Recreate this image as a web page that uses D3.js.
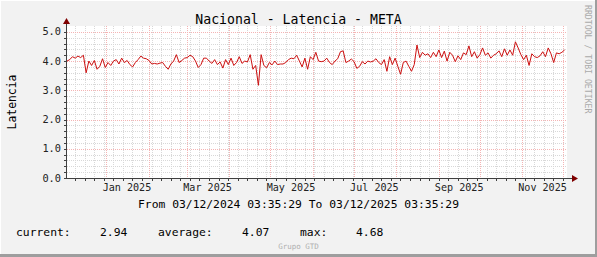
<!DOCTYPE html>
<html>
<head>
<meta charset="utf-8">
<script src="https://cdn.jsdelivr.net/npm/d3@7"></script>
<style>
  body { margin: 0; background: #f2f2f2; }
  svg text { font-family: "DejaVu Sans Mono", monospace; }
  .grid line { shape-rendering: crispEdges; stroke-dasharray: 1,1; }
</style>
</head>
<body>
<div id="chart"></div>
<script>
// Chart texts
var title = "Nacional - Latencia - META";
var yLabel = "Latencia";
var periodText = "From 03/12/2024 03:35:29 To 03/12/2025 03:35:29";
var watermark = "RRDTOOL / TOBI OETIKER";
var footer = "Grupo GTD";

// Legend (label, value)
var legendLabels = ["current:", "average:", "max:"];
var legendValues = ["2.94", "4.07", "4.68"];

// Time range and sample step (2 days)
var startTime = "2024-12-03T03:35:29Z";
var endTime = "2025-12-03T03:35:29Z";
var stepDays = 2;

// Latency values, one every 2 days
var latency = [
  4.0, 4.05, 4.15, 4.1, 4.17, 4.12, 4.2, 3.6, 4.0, 3.85,
  4.02, 3.72, 3.82, 4.08, 3.78, 3.95, 3.85, 4.0, 4.05, 3.9,
  4.1, 3.95, 4.02, 3.88, 3.8, 3.95, 4.05, 4.17, 4.1, 4.08,
  4.02, 3.9, 3.92, 3.9, 3.93, 3.95, 3.82, 3.72, 3.9, 4.0,
  4.22, 3.95, 4.02, 4.1, 4.12, 4.2, 4.15, 4.0, 3.78, 3.88,
  4.1, 4.1, 4.0, 3.92, 4.05, 3.88, 3.97, 3.76, 4.05, 3.88,
  4.1, 3.85, 3.95, 4.15, 3.92, 4.0, 3.97, 4.22, 3.72, 3.85,
  3.17, 4.22, 3.85, 3.77, 3.95, 3.87, 4.0, 3.88, 3.9, 3.9,
  3.95, 4.05, 4.1, 4.08, 4.2, 4.0, 3.8, 4.1, 3.72, 4.15,
  4.05, 4.3, 4.0, 3.98, 4.0, 4.1, 3.95, 3.88, 4.0, 4.08,
  4.32, 4.35, 3.95, 4.0, 4.07, 3.98, 3.75, 3.82, 3.98, 3.9,
  4.0, 3.97, 4.0, 4.08, 3.95, 3.88, 4.05, 3.65, 4.15, 3.88,
  4.1, 3.82, 3.55, 3.95, 4.0, 3.82, 3.65, 3.88, 4.55, 4.12,
  4.3, 4.2, 4.25, 4.12, 4.3, 4.15, 4.38, 4.12, 4.34, 4.0,
  4.3, 4.2, 3.98, 4.18, 4.05, 4.28, 4.22, 4.52, 4.15, 4.32,
  4.1, 4.22, 4.45, 4.2, 4.28, 4.1, 4.2, 4.25, 4.35, 4.15,
  4.42, 4.2, 4.38, 4.2, 4.66, 4.45, 4.22, 4.05, 4.2, 3.85,
  4.25, 4.15, 4.12, 4.18, 4.32, 4.15, 4.45, 4.25, 3.95, 4.28,
  4.25, 4.3, 4.38
];

// Y axis ticks
var yMajorTicks = [0, 1, 2, 3, 4, 5];
var yMinorTicks = d3.range(0, 26).map(d => d / 5);

var svgWidth = 597;
var svgHeight = 257;

// Plot area
var plot = { left: 67, right: 566, top: 26, bottom: 178 };

var svg = d3.select("#chart")
    .append("svg")
    .attr("width", svgWidth)
    .attr("height", svgHeight);

// Canvas with 3D frame
svg.append("rect").attr("width", svgWidth).attr("height", svgHeight).attr("fill", "#f2f2f2");
svg.append("rect").attr("x", 0).attr("y", 0).attr("width", svgWidth).attr("height", 1).attr("fill", "#ffffff");
svg.append("rect").attr("x", 0).attr("y", 0).attr("width", 1).attr("height", svgHeight).attr("fill", "#ffffff");
svg.append("rect").attr("x", 0).attr("y", svgHeight - 3).attr("width", svgWidth).attr("height", 3).attr("fill", "#9e9e9e");
svg.append("rect").attr("x", svgWidth - 2).attr("y", 0).attr("width", 2).attr("height", svgHeight).attr("fill", "#9e9e9e");

// Plot background
svg.append("rect")
    .attr("x", plot.left)
    .attr("y", plot.top)
    .attr("width", plot.right - plot.left + 1)
    .attr("height", plot.bottom - plot.top)
    .attr("fill", "#ffffff");

var parseTime = d3.utcParse("%Y-%m-%dT%H:%M:%SZ");
var t0 = parseTime(startTime);
var t1 = parseTime(endTime);

var data = latency.map(function (v, i) {
    return { date: d3.utcDay.offset(t0, i * stepDays), value: v };
});

var xScale = d3.scaleUtc().domain([t0, t1]).range([plot.left, plot.right]);
var yScale = d3.scaleLinear().domain([0, 5.2]).range([plot.bottom, plot.top]);

var weeks = d3.utcMonday.range(t0, t1);
var months = d3.utcMonth.range(t0, t1);
var labelMonths = months.filter(d => d.getUTCMonth() % 2 === 0);

// Minor grid
svg.append("g")
    .attr("class", "grid")
    .selectAll("line")
    .data(weeks)
    .enter()
    .append("line")
    .attr("x1", d => Math.round(xScale(d)) + 0.5)
    .attr("x2", d => Math.round(xScale(d)) + 0.5)
    .attr("y1", plot.top)
    .attr("y2", plot.bottom)
    .attr("stroke", "#d8d8d8");

svg.append("g")
    .attr("class", "grid")
    .selectAll("line")
    .data(yMinorTicks)
    .enter()
    .append("line")
    .attr("x1", plot.left)
    .attr("x2", plot.right + 1)
    .attr("y1", d => Math.round(yScale(d)) + 0.5)
    .attr("y2", d => Math.round(yScale(d)) + 0.5)
    .attr("stroke", "#d8d8d8");

// Major grid
svg.append("g")
    .attr("class", "grid")
    .selectAll("line")
    .data(months)
    .enter()
    .append("line")
    .attr("x1", d => Math.round(xScale(d)) + 0.5)
    .attr("x2", d => Math.round(xScale(d)) + 0.5)
    .attr("y1", plot.top)
    .attr("y2", plot.bottom)
    .attr("stroke", "#f4b4b4");

svg.append("g")
    .attr("class", "grid")
    .selectAll("line")
    .data(yMajorTicks)
    .enter()
    .append("line")
    .attr("x1", plot.left - 2)
    .attr("x2", plot.right + 1)
    .attr("y1", d => Math.round(yScale(d)) + 0.5)
    .attr("y2", d => Math.round(yScale(d)) + 0.5)
    .attr("stroke", "#f4b4b4");

// Data line
var line = d3.line()
    .x(d => xScale(d.date))
    .y(d => yScale(d.value));

svg.append("path")
    .datum(data)
    .attr("fill", "none")
    .attr("stroke", "#cc1010")
    .attr("stroke-width", 1)
    .attr("stroke-linejoin", "round")
    .attr("d", line);

// Axes
var axisColor = "#404040";

svg.append("line")
    .attr("x1", plot.left).attr("x2", plot.right + 6)
    .attr("y1", plot.bottom + 0.5).attr("y2", plot.bottom + 0.5)
    .attr("stroke", axisColor);
svg.append("line")
    .attr("x1", plot.left - 0.5).attr("x2", plot.left - 0.5)
    .attr("y1", plot.bottom + 1).attr("y2", plot.top - 4)
    .attr("stroke", axisColor);

// X ticks
svg.append("g").selectAll("line")
    .data(weeks)
    .enter()
    .append("line")
    .attr("x1", d => Math.round(xScale(d)) + 0.5)
    .attr("x2", d => Math.round(xScale(d)) + 0.5)
    .attr("y1", plot.bottom + 1)
    .attr("y2", plot.bottom + 3)
    .attr("stroke", axisColor);

// Y ticks
svg.append("g").selectAll("line")
    .data(yMinorTicks)
    .enter()
    .append("line")
    .attr("x1", plot.left - 3)
    .attr("x2", plot.left)
    .attr("y1", d => Math.round(yScale(d)) + 0.5)
    .attr("y2", d => Math.round(yScale(d)) + 0.5)
    .attr("stroke", axisColor);

// Arrows
svg.append("path")
    .attr("d", `M${plot.left - 4},${plot.top - 2} L${plot.left - 0.5},${plot.top - 8} L${plot.left + 3},${plot.top - 2} Z`)
    .attr("fill", "#7f0000");
svg.append("path")
    .attr("d", `M${plot.right + 6},${plot.bottom - 3} L${plot.right + 12},${plot.bottom + 0.5} L${plot.right + 6},${plot.bottom + 4} Z`)
    .attr("fill", "#7f0000");

// Tick labels
svg.append("g").selectAll("text")
    .data(yMajorTicks)
    .enter()
    .append("text")
    .attr("x", plot.left - 6)
    .attr("y", d => yScale(d) + 3.6)
    .attr("text-anchor", "end")
    .attr("font-size", "10.3px")
    .attr("fill", "#222")
    .text(d => d3.format(".1f")(d));

svg.append("g").selectAll("text")
    .data(labelMonths)
    .enter()
    .append("text")
    .attr("x", d => xScale(d3.utcDay.offset(d, 15)))
    .attr("y", 191)
    .attr("text-anchor", "middle")
    .attr("font-size", "10.1px")
    .attr("fill", "#222")
    .text(d => d3.utcFormat("%b %Y")(d));

// Title and labels
svg.append("text")
    .attr("x", 298.5)
    .attr("y", 23.5)
    .attr("text-anchor", "middle")
    .attr("font-size", "13.2px")
    .attr("fill", "#000")
    .text(title);

svg.append("text")
    .attr("transform", "translate(15.5, 102) rotate(-90)")
    .attr("text-anchor", "middle")
    .attr("font-size", "11.4px")
    .attr("fill", "#000")
    .text(yLabel);

svg.append("text")
    .attr("transform", "translate(585, 5) rotate(90)")
    .attr("font-size", "8.2px")
    .attr("fill", "#aaaaaa")
    .text(watermark);

svg.append("text")
    .attr("x", 298.5)
    .attr("y", 208)
    .attr("text-anchor", "middle")
    .attr("font-size", "11.35px")
    .attr("fill", "#000")
    .text(periodText);

// Legend
var labelX = [16, 158, 300];
var valueX = [100, 242, 356];
legendLabels.forEach(function (lab, i) {
    svg.append("text")
        .attr("x", labelX[i]).attr("y", 236)
        .attr("font-size", "11.35px")
        .attr("fill", "#000")
        .text(lab);
    svg.append("text")
        .attr("x", valueX[i]).attr("y", 236)
        .attr("font-size", "11.35px")
        .attr("fill", "#000")
        .text(legendValues[i]);
});

svg.append("text")
    .attr("x", 298.5)
    .attr("y", 248.5)
    .attr("text-anchor", "middle")
    .attr("font-size", "7.5px")
    .attr("fill", "#b0b0b0")
    .text(footer);
</script>
</body>
</html>
